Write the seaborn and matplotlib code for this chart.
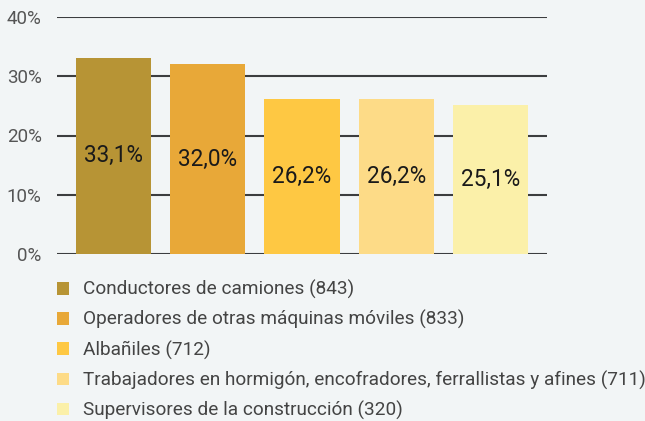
import numpy as np
import pandas as pd
import matplotlib.pyplot as plt
import seaborn as sns
from matplotlib.patches import Patch

# data
categorias = ['Conductores de camiones (843)',
              'Operadores de otras máquinas móviles (833)',
              'Albañiles (712)',
              'Trabajadores en hormigón, encofradores, ferrallistas y afines (711)',
              'Supervisores de la construcción (320)']
porcentajes = [33.1, 32.0, 26.2, 26.2, 25.1]
etiquetas = ['33,1%', '32,0%', '26,2%', '26,2%', '25,1%']
colores = ['#B79435', '#E8A838', '#FEC843', '#FDDB87', '#FBF0A9']
ticks_y = [0, 10, 20, 30, 40]
ticks_txt = ['0%', '10%', '20%', '30%', '40%']

df = pd.DataFrame({'cat': categorias, 'pct': porcentajes})

sns.set_style('white')
plt.rcParams['font.family'] = ['Roboto', 'DejaVu Sans']
bg = '#F2F5F6'

fig = plt.figure(figsize=(6.45, 4.21), dpi=100, facecolor=bg)
ax = fig.add_axes([57/645, 1-254/421, 490/645, 237/421], facecolor=bg)

sns.barplot(data=df, x='cat', y='pct', hue='cat', palette=colores,
            width=0.8, saturation=1, legend=False, ax=ax, zorder=3,
            linewidth=0, edgecolor='none')

ax.set_xlim(-0.6, 4.6)
ax.set_ylim(0, 40)
ax.set_yticks(ticks_y)
ax.set_yticklabels(ticks_txt)
ax.set_xticks([])
ax.set_xlabel('')
ax.set_ylabel('')
ax.yaxis.grid(True, color='#3c3d3f', linewidth=1.5, zorder=0)
ax.set_axisbelow(True)
ax.tick_params(axis='y', length=0, pad=11, labelsize=13.5, labelcolor='#555555')
for s in ax.spines.values():
    s.set_visible(False)

# labels inside bars
for i, (v, t) in enumerate(zip(porcentajes, etiquetas)):
    ax.text(i, v / 2, t, ha='center', va='center', fontsize=16.3,
            color='#1a1a1a', zorder=4)

# legend
handles = [Patch(facecolor=c, edgecolor='none') for c in colores]
fig.legend(handles, categorias, loc='upper left', bbox_to_anchor=(57/645, 1-280/421),
           frameon=False, fontsize=13.7, labelcolor='#444444',
           handlelength=0.65, handleheight=0.65, handletextpad=0.7,
           labelspacing=0.58, borderaxespad=0, borderpad=0)

fig.savefig('out.png', dpi=100, facecolor=bg)
